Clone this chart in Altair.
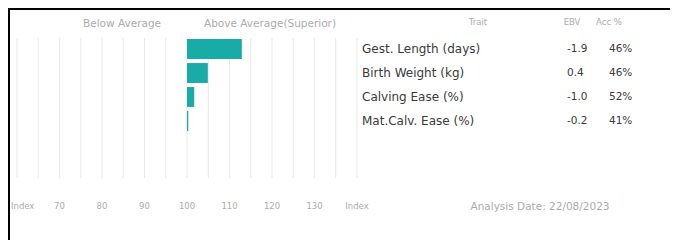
import altair as alt
import pandas as pd

traits = ["Gest. Length (days)", "Birth Weight (kg)", "Calving Ease (%)", "Mat.Calv. Ease (%)"]
index_values = [112.9, 104.9, 101.7, 100.3]
ebv = ["-1.9", "0.4", "-1.0", "-0.2"]
acc = ["46%", "46%", "52%", "41%"]
tick_values = [60, 70, 80, 90, 100, 110, 120, 130, 140]
tick_labels = ["Index", "70", "80", "90", "100", "110", "120", "130", "Index"]
grid_values = [60, 65, 70, 75, 80, 85, 90, 95, 100, 105, 110, 115, 120, 125, 130, 135, 140]

FONT = "DejaVu Sans"
GRAY = "#ababab"
DARK = "#3a3a3a"
TEAL = "#19aca6"

df = pd.DataFrame({"trait": traits, "value": index_values, "base": [100] * 4,
                   "ebv": ebv, "acc": acc})
grid_df = pd.DataFrame({"g": grid_values})
ticks_df = pd.DataFrame({"t": tick_values, "label": tick_labels})

xs = alt.Scale(domain=[60, 140], range=[9, 349], nice=False, zero=False)
ys = alt.Scale(domain=traits, range=[29, 125], paddingInner=0.17, paddingOuter=0.085)

grid = alt.Chart(grid_df).mark_rule(color="#e9e9e9", strokeWidth=1).encode(
    x=alt.X("g:Q", scale=xs, axis=None),
    y=alt.value(30), y2=alt.value(170))

bars = alt.Chart(df).mark_bar(color=TEAL).encode(
    x=alt.X("base:Q", scale=xs, axis=None),
    x2="value:Q",
    y=alt.Y("trait:N", scale=ys, axis=None, sort=traits))

tick_first = alt.Chart(ticks_df.head(1)).mark_text(
    font=FONT, fontSize=8.5, color=GRAY, baseline="middle", align="left", dx=-6).encode(
    x=alt.X("t:Q", scale=xs, axis=None), y=alt.value(198), text="label:N")
tick_rest = alt.Chart(ticks_df.iloc[1:]).mark_text(
    font=FONT, fontSize=8.5, color=GRAY, baseline="middle").encode(
    x=alt.X("t:Q", scale=xs, axis=None), y=alt.value(198), text="label:N")

def col(field, xpx, align, size, color):
    return alt.Chart(df).mark_text(font=FONT, fontSize=size, color=color, align=align,
                                   baseline="middle").encode(
        x=alt.value(xpx), y=alt.Y("trait:N", scale=ys, axis=None, sort=traits), text=f"{field}:N")

names = col("trait", 354, "left", 12, DARK)
ebvs = col("ebv", 559, "left", 10.5, DARK)
accs = col("acc", 601, "left", 10.5, DARK)

labels_df = pd.DataFrame({
    "txt": ["Below Average", "Above Average(Superior)", "Trait", "EBV", "Acc %", "Analysis Date: 22/08/2023"],
    "px": [114, 262, 470, 564, 601, 532],
    "py": [16, 16, 14, 14, 14, 199],
    "size": [10.5, 10.5, 8.5, 8.5, 8.5, 10.5],
})
headers = alt.Chart(labels_df).mark_text(font=FONT, color=GRAY, baseline="middle").encode(
    x=alt.X("px:Q", scale=None), y=alt.Y("py:Q", scale=None), text="txt:N",
    size=alt.Size("size:Q", scale=None, legend=None))

border_top = alt.Chart(grid_df.head(1)).mark_rule(color="black", strokeWidth=2).encode(
    x=alt.value(0), x2=alt.value(662), y=alt.value(1))
border_left = alt.Chart(grid_df.head(1)).mark_rule(color="black", strokeWidth=2).encode(
    x=alt.value(1), y=alt.value(0), y2=alt.value(232))

chart = alt.layer(grid, bars, tick_first, tick_rest, names, ebvs, accs, headers,
                  border_top, border_left).properties(
    width=662, height=232, padding=0, autosize=alt.AutoSizeParams(type="none")
).configure_view(stroke=None).configure(background="white")

chart.save("out.html", embed_options={"renderer": "svg", "actions": False})
